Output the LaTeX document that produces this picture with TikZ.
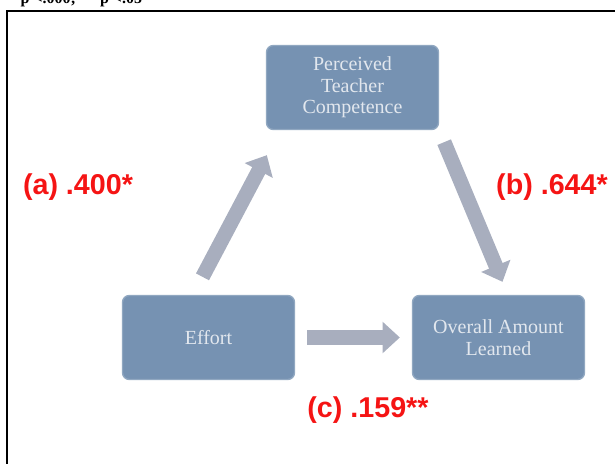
\documentclass[tikz,border=0pt]{standalone}
\usepackage{fontspec}
\setmainfont{Liberation Serif}
\newfontfamily\labelfont{Liberation Sans}
\usetikzlibrary{arrows.meta, positioning}
\definecolor{boxblue}{RGB}{118,146,178}
\definecolor{boxtext}{RGB}{226,231,238}
\definecolor{arrowgrey}{RGB}{168,174,190}
\definecolor{labelred}{RGB}{245,20,20}
\tikzset{
  factor/.style={rectangle, rounded corners=5pt, fill=boxblue, draw=boxblue!80!white,
    line width=1pt, minimum width=129pt, minimum height=63pt, align=center,
    text=boxtext, font=\fontsize{15}{16}\selectfont},
  blockarrow/.style={draw=arrowgrey, line width=11pt, -{Triangle[length=13pt, width=23pt]}},
  coef/.style={text=labelred, font=\labelfont\bfseries\fontsize{21.5}{24}\selectfont}
}
\begin{document}
\begin{tikzpicture}[x=0.75pt, y=-0.75pt]
\useasboundingbox (0,0) rectangle (615,464);
\node[anchor=base west, font=\bfseries\fontsize{12}{14}\selectfont] (note) at (8,3) {*p <.000; ** p <.05};
\draw[line width=1.5pt] (7,480) -- (7,11) -- (630,11);

\node[factor] (ptc) at (352.5,87.5) {Perceived\\Teacher\\Competence};
\node[factor] (effort) at (208.5,337.5) {Effort};
\node[factor] (learned) at (498.5,337.5) {Overall Amount\\Learned};

\draw[blockarrow] ([shift={(-6,-18)}]effort.north) -- ([shift={(1,25)}]ptc.south west);
\draw[blockarrow] ([shift={(5,12)}]ptc.south east) -- ([shift={(4,-13)}]learned.north);
\draw[blockarrow] ([shift={(12,0)}]effort.east) -- ([shift={(-12,0)}]learned.west);

\node[coef] (a) at (78,187) {(a) .400*};
\node[coef] (b) at (552,187) {(b) .644*};
\node[coef] (c) at (368,410) {(c) .159**};
\end{tikzpicture}
\end{document}
